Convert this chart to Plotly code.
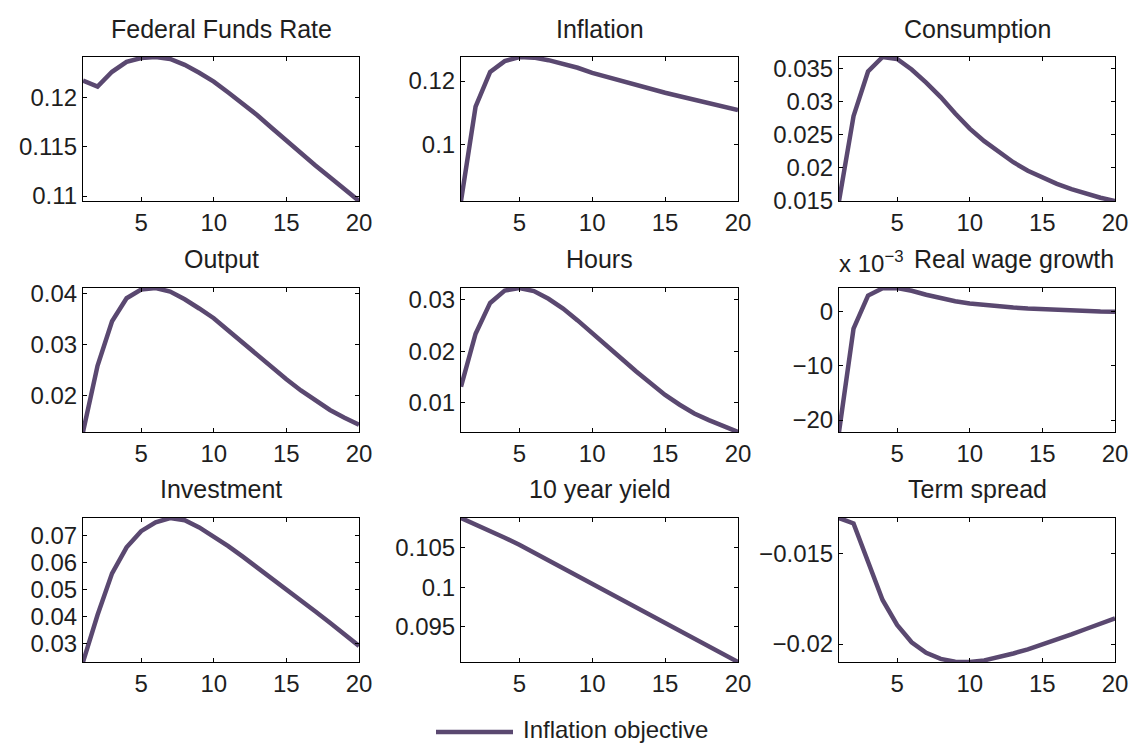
import plotly.graph_objects as go
from plotly.subplots import make_subplots

horizon = list(range(1, 21))

fed_funds = [0.1217, 0.1211, 0.1226, 0.1236, 0.1240, 0.1241, 0.1239, 0.1233, 0.1225, 0.1216,
             0.1205, 0.1194, 0.1182, 0.1169, 0.1156, 0.1144, 0.1131, 0.1119, 0.1107, 0.1095]
inflation = [0.0821, 0.1119, 0.1229, 0.1263, 0.1276, 0.1274, 0.1266, 0.1255, 0.1242, 0.1226,
             0.1213, 0.1200, 0.1187, 0.1175, 0.1163, 0.1152, 0.1141, 0.1130, 0.1119, 0.1108]
consumption = [0.0149, 0.0278, 0.0346, 0.0368, 0.0365, 0.0349, 0.0329, 0.0307, 0.0282, 0.0259,
               0.0240, 0.0223, 0.0208, 0.0195, 0.0185, 0.0175, 0.0167, 0.0160, 0.0154, 0.0149]
output = [0.0129, 0.0258, 0.0345, 0.0390, 0.0407, 0.0410, 0.0403, 0.0388, 0.0370, 0.0351,
          0.0327, 0.0303, 0.0279, 0.0255, 0.0232, 0.0210, 0.0190, 0.0172, 0.0157, 0.0143]
hours = [0.0131, 0.0234, 0.0294, 0.0318, 0.0323, 0.0317, 0.0302, 0.0283, 0.0260, 0.0236,
         0.0211, 0.0186, 0.0161, 0.0137, 0.0115, 0.0096, 0.0079, 0.0066, 0.0054, 0.0043]
# real wage growth, in units of 10^-3
real_wage = [-22.2, -3.1, 3.0, 4.35, 4.4, 3.9, 3.15, 2.5, 1.95, 1.55,
             1.25, 1.0, 0.8, 0.62, 0.48, 0.35, 0.24, 0.14, 0.05, 0.0]
investment = [0.0230, 0.0405, 0.0560, 0.0657, 0.0717, 0.0750, 0.0766, 0.0758, 0.0731, 0.0698,
              0.0661, 0.0622, 0.0582, 0.0543, 0.0503, 0.0460, 0.0418, 0.0376, 0.0335, 0.0290]
yield_10y = [0.1088, 0.1080, 0.1072, 0.1063, 0.1054, 0.1044, 0.1034, 0.1024, 0.1014, 0.1004,
             0.0994, 0.0984, 0.0974, 0.0964, 0.0954, 0.0944, 0.0934, 0.0924, 0.0914, 0.0905]
term_spread = [-0.01305, -0.01335, -0.01546, -0.01757, -0.01895, -0.01990, -0.02048, -0.02082, -0.02097, -0.02099,
               -0.02090, -0.02073, -0.02052, -0.02029, -0.02003, -0.01975, -0.01947, -0.01917, -0.01888, -0.01858]

titles = ["Federal Funds Rate", "Inflation", "Consumption",
          "Output", "Hours", "Real wage growth",
          "Investment", "10 year yield", "Term spread"]
series = [fed_funds, inflation, consumption, output, hours, real_wage,
          investment, yield_10y, term_spread]
ytick_vals = [[0.11, 0.115, 0.12], [0.1, 0.12], [0.015, 0.02, 0.025, 0.03, 0.035],
              [0.02, 0.03, 0.04], [0.01, 0.02, 0.03], [-20, -10, 0],
              [0.03, 0.04, 0.05, 0.06, 0.07], [0.095, 0.1, 0.105], [-0.02, -0.015]]
ytick_text = [["0.11", "0.115", "0.12"], ["0.1", "0.12"], ["0.015", "0.02", "0.025", "0.03", "0.035"],
              ["0.02", "0.03", "0.04"], ["0.01", "0.02", "0.03"], ["\u221220", "\u221210", "0"],
              ["0.03", "0.04", "0.05", "0.06", "0.07"], ["0.095", "0.1", "0.105"], ["\u22120.02", "\u22120.015"]]
xtick_vals = [5, 10, 15, 20]
legend_name = "Inflation objective"

W, H = 1132, 744
LINE = "#5a4870"
INK = "#1e1e1e"
FONT = "Liberation Sans, Arial, Helvetica, sans-serif"

col_px = [(83, 359), (461, 738), (839, 1115)]
row_px = [(57, 201), (288, 432), (518, 662)]
title_y = [29, 259, 489]

fig = make_subplots(rows=3, cols=3)

for i, (name, vals) in enumerate(zip(titles, series)):
    r, c = i // 3, i % 3
    fig.add_trace(go.Scatter(x=horizon, y=vals, mode="lines", name=legend_name,
                             line=dict(color=LINE, width=4.5), showlegend=False),
                  row=r + 1, col=c + 1)
    x0, x1 = col_px[c]
    y0, y1 = row_px[r]
    fig.update_xaxes(domain=[x0 / W, x1 / W], range=[1, 20], tickvals=xtick_vals,
                     row=r + 1, col=c + 1)
    fig.update_yaxes(domain=[1 - y1 / H, 1 - y0 / H], range=[min(vals), max(vals)],
                     tickvals=ytick_vals[i], ticktext=ytick_text[i], row=r + 1, col=c + 1)
    if name == "Real wage growth":
        fig.add_annotation(x=1116 / W, y=1 - title_y[r] / H, xref="paper", yref="paper",
                           text=name, showarrow=False, xanchor="right", yanchor="middle",
                           font=dict(size=25, color=INK, family=FONT))
        fig.add_annotation(x=837 / W, y=1 - 262 / H, xref="paper", yref="paper",
                           text="x 10<sup>\u22123</sup>", showarrow=False, xanchor="left",
                           yanchor="middle", font=dict(size=24, color=INK, family=FONT))
    else:
        fig.add_annotation(x=(x0 + x1) / 2 / W, y=1 - title_y[r] / H, xref="paper", yref="paper",
                           text=name, showarrow=False, xanchor="center", yanchor="middle",
                           font=dict(size=25, color=INK, family=FONT))

axis_style = dict(showgrid=False, zeroline=False, showline=True, linecolor="black", linewidth=1,
                  mirror="ticks", ticks="inside", ticklen=4, tickcolor="black", automargin=False,
                  tickfont=dict(size=24, color=INK, family=FONT))
fig.update_xaxes(**axis_style)
fig.update_yaxes(**axis_style)

# legend drawn by hand so the sample line is as long as in the original
fig.add_shape(type="line", xref="paper", yref="paper", x0=436 / W, x1=513 / W,
              y0=1 - 732 / H, y1=1 - 732 / H, line=dict(color=LINE, width=4.5))
fig.add_annotation(x=521 / W, y=1 - 729 / H, xref="paper", yref="paper", text=legend_name,
                   showarrow=False, xanchor="left", yanchor="middle",
                   font=dict(size=24, color=INK, family=FONT))

fig.update_layout(width=W, height=H, margin=dict(l=0, r=0, t=0, b=0),
                  paper_bgcolor="white", plot_bgcolor="white", showlegend=False)

# drop the default page margin so the figure sits at the window's corner
fig.write_html("out.html", config={"displayModeBar": False},
               post_script="document.body.style.margin='0';document.body.style.overflow='hidden';")
